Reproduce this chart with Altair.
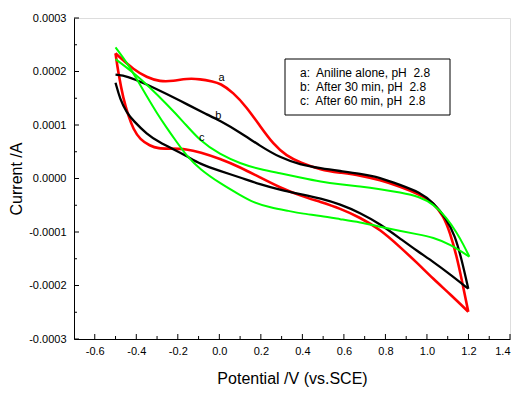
import altair as alt
import pandas as pd

# ---- data (current in units of 1e-4 A) ----
red_up_v = [-0.500, -0.478, -0.414, -0.350, -0.286, -0.222, -0.157, -0.093, -0.029, 0.003, 0.067, 0.132, 0.196, 0.260, 0.324, 0.389, 0.489, 0.581, 0.678, 0.774, 0.870, 0.966, 1.031, 1.079, 1.111, 1.143, 1.167, 1.199]
red_up_i = [2.34, 2.26, 2.04, 1.89, 1.81, 1.82, 1.87, 1.86, 1.81, 1.78, 1.61, 1.33, 0.98, 0.64, 0.42, 0.30, 0.16, 0.11, 0.06, -0.03, -0.15, -0.30, -0.45, -0.70, -1.01, -1.45, -1.88, -2.49]
red_dn_v = [1.199, 1.111, 1.031, 0.951, 0.870, 0.774, 0.678, 0.581, 0.489, 0.389, 0.292, 0.196, 0.100, 0.003, -0.093, -0.157, -0.238, -0.294, -0.334, -0.382, -0.414, -0.438, -0.462, -0.487, -0.500]
red_dn_i = [-2.49, -2.16, -1.88, -1.57, -1.28, -0.95, -0.73, -0.56, -0.44, -0.32, -0.17, 0.02, 0.21, 0.37, 0.49, 0.55, 0.56, 0.56, 0.61, 0.73, 0.92, 1.17, 1.48, 1.98, 2.34]

blk_up_v = [-0.500, -0.446, -0.350, -0.254, -0.157, -0.061, 0.003, 0.100, 0.196, 0.292, 0.389, 0.489, 0.581, 0.678, 0.774, 0.870, 0.966, 1.031, 1.095, 1.135, 1.167, 1.199]
blk_up_i = [1.94, 1.92, 1.76, 1.58, 1.39, 1.20, 1.08, 0.86, 0.61, 0.39, 0.26, 0.19, 0.14, 0.09, 0.02, -0.12, -0.26, -0.45, -0.76, -1.07, -1.51, -2.06]
blk_dn_v = [1.199, 1.111, 1.031, 0.951, 0.870, 0.774, 0.678, 0.581, 0.489, 0.389, 0.292, 0.196, 0.100, 0.003, -0.093, -0.157, -0.222, -0.286, -0.350, -0.414, -0.446, -0.478, -0.500]
blk_dn_i = [-2.06, -1.79, -1.56, -1.35, -1.12, -0.85, -0.64, -0.48, -0.37, -0.29, -0.21, -0.11, 0.02, 0.14, 0.27, 0.42, 0.55, 0.67, 0.83, 1.08, 1.23, 1.48, 1.79]

grn_up_v = [-0.500, -0.414, -0.334, -0.254, -0.173, -0.093, 0.003, 0.100, 0.196, 0.292, 0.389, 0.489, 0.581, 0.678, 0.774, 0.870, 0.966, 1.031, 1.095, 1.143, 1.175, 1.204]
grn_up_i = [2.23, 1.98, 1.70, 1.39, 1.06, 0.70, 0.45, 0.28, 0.17, 0.10, 0.02, -0.06, -0.11, -0.15, -0.20, -0.26, -0.34, -0.48, -0.73, -1.01, -1.23, -1.46]
grn_dn_v = [1.204, 1.111, 1.031, 0.951, 0.870, 0.774, 0.678, 0.581, 0.489, 0.389, 0.340, 0.244, 0.164, 0.100, 0.003, -0.093, -0.157, -0.205, -0.254, -0.302, -0.350, -0.398, -0.446, -0.500]
grn_dn_i = [-1.46, -1.23, -1.10, -1.04, -0.98, -0.90, -0.82, -0.76, -0.70, -0.65, -0.61, -0.54, -0.45, -0.31, -0.09, 0.17, 0.42, 0.68, 0.95, 1.23, 1.54, 1.86, 2.17, 2.45]

curve_labels = ["a", "b", "c"]
label_v = [0.011, -0.005, -0.085]
label_i = [1.88, 1.17, 0.75]

legend_lines = ["a:\u00a0 Aniline alone, pH\u00a0 2.8", "b:\u00a0 After 30 min, pH\u00a0 2.8", "c:\u00a0 After 60 min, pH\u00a0 2.8"]

x_major = [-0.6, -0.4, -0.2, 0.0, 0.2, 0.4, 0.6, 0.8, 1.0, 1.2, 1.4]
x_minor = [-0.5, -0.3, -0.1, 0.1, 0.3, 0.5, 0.7, 0.9, 1.1, 1.3]
y_major = [-0.0003, -0.0002, -0.0001, 0.0, 0.0001, 0.0002, 0.0003]
y_minor = [-0.00025, -0.00015, -0.00005, 0.00005, 0.00015, 0.00025]

# ---- build tables ----
rows = []
for series, seg, vs, cs in [
    ("a", "a_up", red_up_v, red_up_i), ("a", "a_dn", red_dn_v, red_dn_i),
    ("b", "b_up", blk_up_v, blk_up_i), ("b", "b_dn", blk_dn_v, blk_dn_i),
    ("c", "c_up", grn_up_v, grn_up_i), ("c", "c_dn", grn_dn_v, grn_dn_i),
]:
    for k, (v, c) in enumerate(zip(vs, cs)):
        rows.append({"series": series, "seg": seg, "k": k, "V": v, "I": c * 1e-4})
df = pd.DataFrame(rows)

lab_df = pd.DataFrame({"lab": curve_labels, "V": label_v, "I": [v * 1e-4 for v in label_i]})
leg_df = pd.DataFrame({"t": legend_lines, "row": [0, 1, 2]})
xmaj_df = pd.DataFrame({"V": x_major})
xmin_df = pd.DataFrame({"V": x_minor})
ymaj_df = pd.DataFrame({"I": y_major})
ymin_df = pd.DataFrame({"I": y_minor})

W, H = 436, 321
FONT = "Liberation Sans"

xscale = alt.Scale(domain=[-0.7, 1.4], nice=False, zero=False)
yscale = alt.Scale(domain=[-0.0003, 0.0003], nice=False, zero=False)

xaxis = alt.Axis(values=x_major, format=".1f", ticks=False, tickSize=0, grid=False,
                 labelExpr="replace(datum.label, '\u2212', '-')",
                 labelFont=FONT, labelFontSize=11, labelColor="black", labelPadding=6,
                 domainColor="black", domainWidth=1,
                 title="Potential /V (vs.SCE)", titleFont=FONT, titleFontSize=16,
                 titleFontWeight="normal", titleColor="black", titlePadding=14)
yaxis = alt.Axis(values=y_major, format=".4f", ticks=False, tickSize=0, grid=False,
                 labelExpr="replace(datum.label, '\u2212', '-')",
                 labelFont=FONT, labelFontSize=11, labelColor="black", labelPadding=8,
                 domainColor="black", domainWidth=1,
                 title="Current /A", titleFont=FONT, titleFontSize=16,
                 titleFontWeight="normal", titleColor="black", titlePadding=4)

lines = alt.Chart(df).mark_line(interpolate="basis").encode(
    x=alt.X("V:Q", scale=xscale, axis=xaxis),
    y=alt.Y("I:Q", scale=yscale, axis=yaxis),
    color=alt.Color("series:N", scale=alt.Scale(domain=["a", "b", "c"], range=["#ff0000", "#000000", "#00ff00"]), legend=None),
    strokeWidth=alt.StrokeWidth("series:N", scale=alt.Scale(domain=["a", "b", "c"], range=[2.6, 2, 2]), legend=None),
    detail="seg:N",
    order="k:Q",
)

labels = alt.Chart(lab_df).mark_text(font=FONT, fontSize=11, color="black", align="center", baseline="middle").encode(
    x=alt.X("V:Q", scale=xscale), y=alt.Y("I:Q", scale=yscale), text="lab:N")

xmaj = alt.Chart(xmaj_df).mark_rule(color="black", strokeWidth=1).encode(
    x=alt.X("V:Q", scale=xscale), y=alt.value(H), y2=alt.value(H - 5))
xmin = alt.Chart(xmin_df).mark_rule(color="black", strokeWidth=1).encode(
    x=alt.X("V:Q", scale=xscale), y=alt.value(H), y2=alt.value(H - 3))
ymaj = alt.Chart(ymaj_df).mark_rule(color="black", strokeWidth=1).encode(
    y=alt.Y("I:Q", scale=yscale), x=alt.value(0), x2=alt.value(5))
ymin = alt.Chart(ymin_df).mark_rule(color="black", strokeWidth=1).encode(
    y=alt.Y("I:Q", scale=yscale), x=alt.value(0), x2=alt.value(3))

box = alt.Chart(pd.DataFrame({"d": [0]})).mark_rect(fill="white", stroke="black", strokeWidth=1).encode(
    x=alt.value(211), x2=alt.value(376), y=alt.value(41), y2=alt.value(97))

legend_text = alt.Chart(leg_df).transform_calculate(py="55 + datum.row * 14").mark_text(
    font=FONT, fontSize=12, color="black", align="left", baseline="middle").encode(
    x=alt.value(226), y=alt.Y("py:Q", scale=None), text="t:N")

chart = alt.layer(lines, labels, xmaj, xmin, ymaj, ymin, box, legend_text).properties(
    width=W, height=H,
    padding={"left": 66, "top": 10, "right": 5, "bottom": 55},
    autosize=alt.AutoSizeParams(type="none"),
).configure_view(stroke="black", strokeWidth=1).configure(background="white")

chart.save("out.html", embed_options={"renderer": "svg", "actions": False})
